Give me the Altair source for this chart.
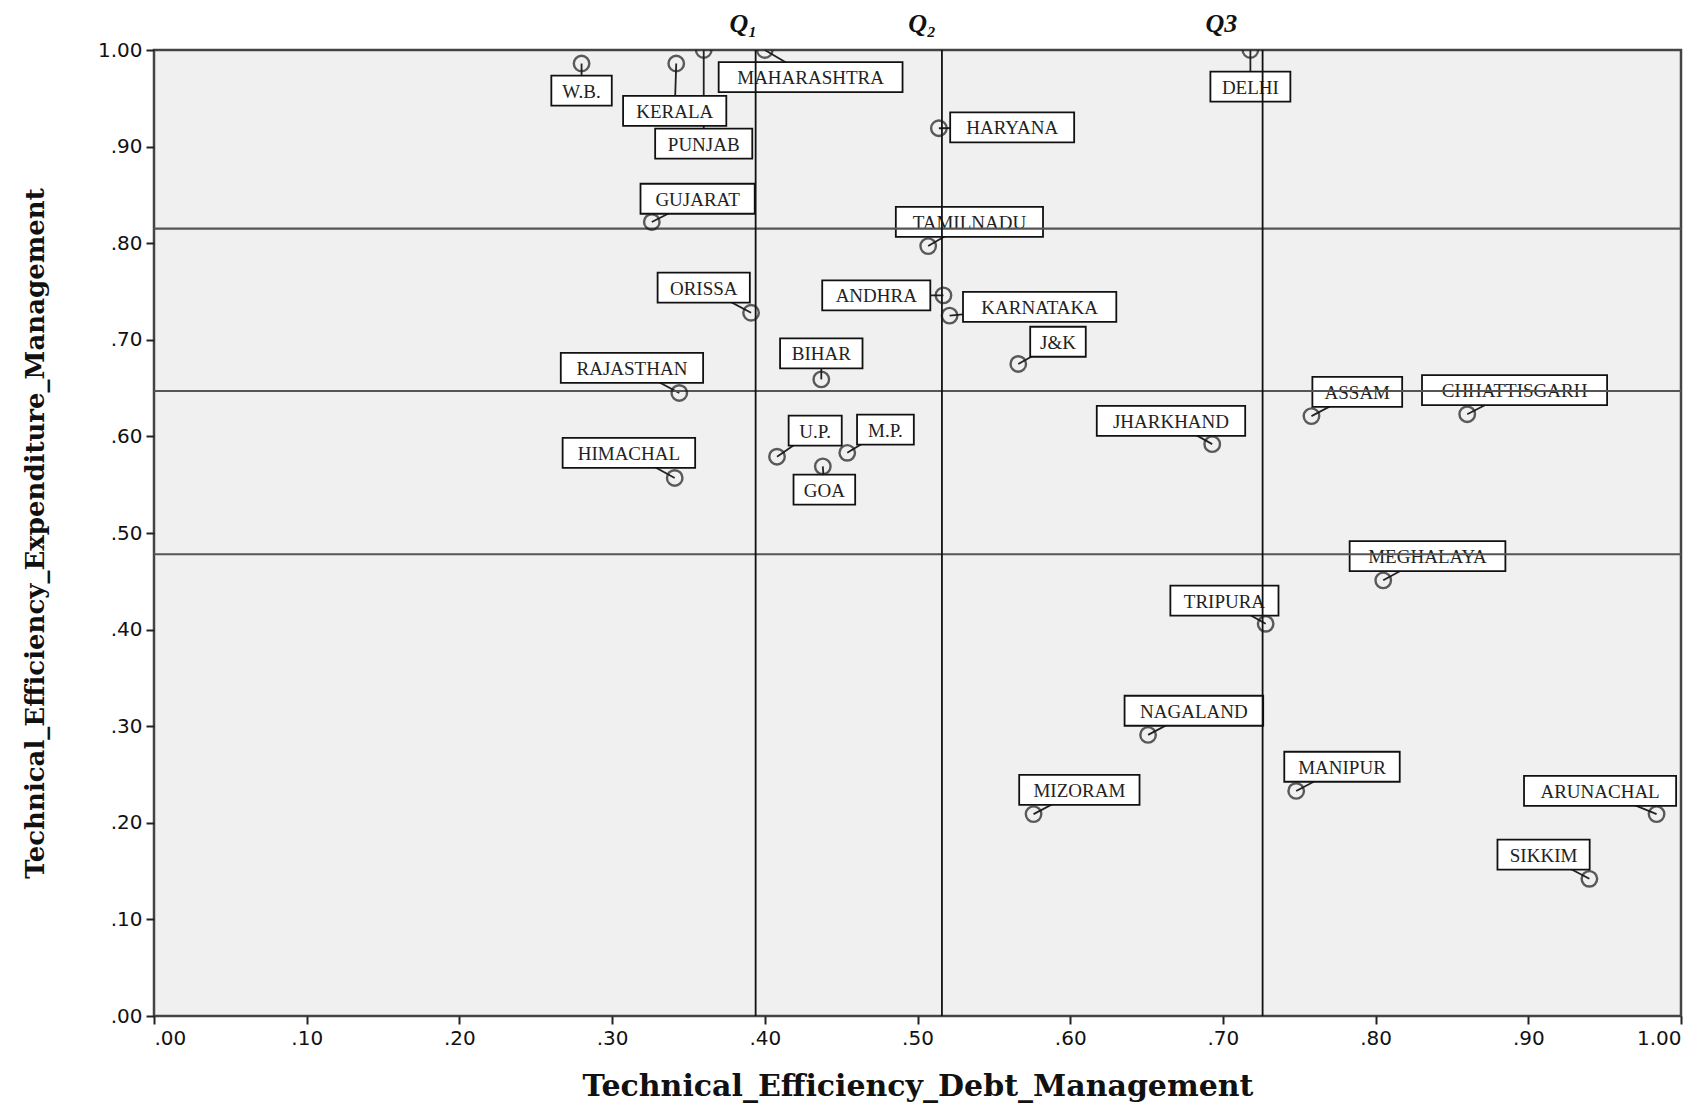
import altair as alt
import pandas as pd

# ---------------- data ----------------
states = ["W.B.", "KERALA", "PUNJAB", "MAHARASHTRA", "DELHI", "HARYANA", "GUJARAT",
          "TAMILNADU", "ORISSA", "ANDHRA", "KARNATAKA", "J&K", "BIHAR", "RAJASTHAN",
          "HIMACHAL", "U.P.", "M.P.", "GOA", "JHARKHAND", "ASSAM", "CHHATTISGARH",
          "MEGHALAYA", "TRIPURA", "NAGALAND", "MIZORAM", "MANIPUR", "ARUNACHAL", "SIKKIM"]
debt_eff = [0.280, 0.342, 0.360, 0.400, 0.718, 0.514, 0.326, 0.507, 0.391, 0.517,
            0.521, 0.566, 0.437, 0.344, 0.341, 0.408, 0.454, 0.438, 0.693, 0.758,
            0.860, 0.805, 0.728, 0.651, 0.576, 0.748, 0.984, 0.940]
exp_eff = [0.986, 0.986, 1.000, 1.000, 1.000, 0.919, 0.822, 0.797, 0.728, 0.746,
           0.725, 0.675, 0.659, 0.645, 0.557, 0.579, 0.583, 0.569, 0.592, 0.621,
           0.623, 0.451, 0.406, 0.291, 0.209, 0.233, 0.209, 0.142]

# quartile reference lines
q_debt = [0.394, 0.516, 0.726]
q_exp = [0.478, 0.647, 0.815]
q_names = ["Q\u2081", "Q\u2082", "Q3"]

# label anchor positions (layout, separate from the data values)
label_x = [0.280, 0.341, 0.360, 0.430, 0.718, 0.562, 0.356, 0.534, 0.360, 0.473,
           0.580, 0.592, 0.437, 0.313, 0.311, 0.433, 0.479, 0.439, 0.666, 0.788,
           0.891, 0.834, 0.701, 0.681, 0.606, 0.778, 0.947, 0.910]
label_y = [0.958, 0.937, 0.903, 0.972, 0.962, 0.920, 0.846, 0.822, 0.754, 0.746,
           0.734, 0.698, 0.686, 0.671, 0.583, 0.606, 0.607, 0.545, 0.616, 0.646,
           0.648, 0.476, 0.430, 0.316, 0.234, 0.258, 0.233, 0.167]
q_label_x = [0.386, 0.503, 0.699]

# ---------------- layout ----------------
W, H = 1527, 966
BOX_H = 30
# approximate serif glyph widths (em) to size the label boxes
tw = {"A": .722, "B": .667, "C": .667, "D": .722, "E": .611, "F": .556, "G": .722,
      "H": .722, "I": .333, "J": .389, "K": .722, "L": .611, "M": .889, "N": .722,
      "O": .722, "P": .556, "R": .667, "S": .556, "T": .611, "U": .722, "W": .944,
      "Y": .722, "Z": .611, ".": .25, "&": .778}


def box_w(s):
    return 14 + 22 * sum(tw.get(c, .6) for c in s)


df = pd.DataFrame({"state": states, "x": debt_eff, "y": exp_eff,
                   "lx": label_x, "ly": label_y})
df["bx1"] = [lx - box_w(s) / 2 / W for lx, s in zip(label_x, states)]
df["bx2"] = [lx + box_w(s) / 2 / W for lx, s in zip(label_x, states)]
df["by1"] = df["ly"] - BOX_H / 2 / H
df["by2"] = df["ly"] + BOX_H / 2 / H

qd = pd.DataFrame({"q": q_debt, "qx": q_label_x, "name": q_names})
qe = pd.DataFrame({"q": q_exp})

xs = alt.Scale(domain=[0, 1], nice=False, zero=False)
ys = alt.Scale(domain=[0, 1], nice=False, zero=False)
ticks = [round(i / 10, 1) for i in range(11)]
lab_expr = "datum.value < 1 ? substring(format(datum.value, '.2f'), 1) : format(datum.value, '.2f')"

x_axis = alt.Axis(values=ticks, labelExpr=lab_expr, title="Technical_Efficiency_Debt_Management",
                  grid=False, domain=False, tickSize=8, tickWidth=2, tickColor="#222",
                  labelFont="DejaVu Sans", labelFontSize=20, labelColor="#111", labelPadding=4,
                  titleFont="DejaVu Serif", titleFontSize=30, titleFontWeight="bold",
                  titleColor="#111", titleX=W / 2, titleY=70, titleBaseline="middle")
y_axis = alt.Axis(values=ticks, labelExpr=lab_expr, title="Technical_Efficiency_Expenditure_Management",
                  grid=False, domain=False, tickSize=8, tickWidth=2, tickColor="#222",
                  labelFont="DejaVu Sans", labelFontSize=20, labelColor="#111", labelPadding=4,
                  titleFont="DejaVu Serif", titleFontSize=26, titleFontWeight="bold",
                  titleColor="#111", titleX=-119, titleY=H / 2, titleAngle=270,
                  titleBaseline="middle", titleAlign="center")

base = alt.Chart(df)

points_axes = base.mark_point(shape="circle", filled=False, size=240, strokeWidth=2.4,
                              color="#1a1a1a", clip=True).encode(
    x=alt.X("x:Q", scale=xs, axis=x_axis),
    y=alt.Y("y:Q", scale=ys, axis=y_axis),
)

connectors = base.mark_rule(color="#222", strokeWidth=1.8).encode(
    x=alt.X("x:Q", scale=xs), y=alt.Y("y:Q", scale=ys),
    x2="lx:Q", y2="ly:Q")

boxes = base.mark_rect(fill="white", stroke="#111", strokeWidth=1.8).encode(
    x=alt.X("bx1:Q", scale=xs), x2="bx2:Q",
    y=alt.Y("by1:Q", scale=ys), y2="by2:Q")

texts = base.mark_text(font="Liberation Serif", fontSize=19, color="#222",
                       baseline="middle", align="center", dy=1).encode(
    x=alt.X("lx:Q", scale=xs), y=alt.Y("ly:Q", scale=ys), text="state:N")

vlines = alt.Chart(qd).mark_rule(color="#111", strokeWidth=1.8).encode(
    x=alt.X("q:Q", scale=xs))
hlines = alt.Chart(qe).mark_rule(color="#555", strokeWidth=2.2).encode(
    y=alt.Y("q:Q", scale=ys))

qlabels = alt.Chart(qd).mark_text(font="Liberation Serif", fontSize=26, fontWeight="bold",
                                  fontStyle="italic", color="#111", baseline="middle",
                                  align="center").encode(
    x=alt.X("qx:Q", scale=xs), y=alt.value(-26), text="name:N")

chart = alt.layer(connectors, boxes, texts, hlines, vlines, points_axes, qlabels).properties(
    width=W, height=H,
    autosize=alt.AutoSizeParams(type="none"),
    padding={"left": 146, "top": 42, "right": 12, "bottom": 96},
    background="white",
).configure_view(fill="#F0F0F0", stroke="#444", strokeWidth=2.5)

chart.save("out.html", embed_options={"renderer": "svg", "actions": False})
